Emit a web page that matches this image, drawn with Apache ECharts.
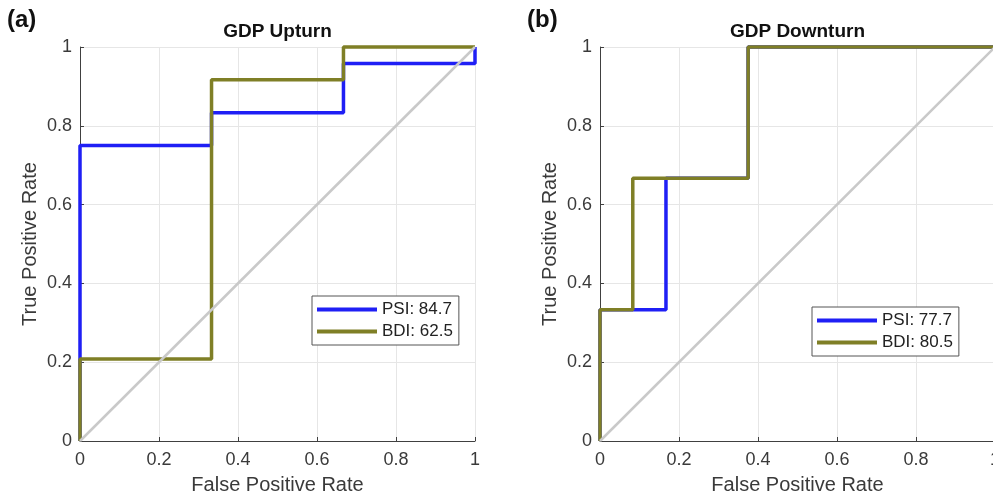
<!DOCTYPE html>
<html>
<head>
<meta charset="utf-8">
<script src="https://cdn.jsdelivr.net/npm/echarts@6/dist/echarts.min.js"></script>
<style>
html,body{margin:0;padding:0;background:#fff;}
#chart{width:993px;height:501px;}
</style>
</head>
<body>
<div id="chart"></div>
<script>
// ---- Data ----
const panelLabels = ['(a)', '(b)'];
const panelTitles = ['GDP Upturn', 'GDP Downturn'];
const xAxisName = 'False Positive Rate';
const yAxisName = 'True Positive Rate';

// Panel (a): GDP Upturn — ROC step curves [FPR, TPR]
const upturnPSIName = 'PSI: 84.7';
const upturnPSI = [[0,0],[0,0.75],[0.333,0.75],[0.333,0.833],[0.667,0.833],[0.667,0.958],[1,0.958],[1,1]];
const upturnBDIName = 'BDI: 62.5';
const upturnBDI = [[0,0],[0,0.208],[0.333,0.208],[0.333,0.917],[0.667,0.917],[0.667,1],[1,1]];

// Panel (b): GDP Downturn
const downturnPSIName = 'PSI: 77.7';
const downturnPSI = [[0,0],[0,0.333],[0.167,0.333],[0.167,0.667],[0.375,0.667],[0.375,1],[1,1]];
const downturnBDIName = 'BDI: 80.5';
const downturnBDI = [[0,0],[0,0.333],[0.083,0.333],[0.083,0.667],[0.375,0.667],[0.375,1],[1,1]];

// Chance diagonal
const diagonal = [[0,0],[1,1]];

// ---- Styles ----
const BLUE = '#1f1ff5';
const OLIVE = '#7f7f26';
const GRAY = '#c9c9c9';
const TXT = '#3a3a3a';
const FONT = 'Liberation Sans, Arial, Helvetica, sans-serif';

const chart = echarts.init(document.getElementById('chart'), null, {renderer: 'canvas'});

function xAxis(i) {
  return {
    type: 'value', gridIndex: i, min: 0, max: 1, interval: 0.2,
    name: xAxisName, nameLocation: 'middle', nameGap: 34,
    nameTextStyle: {fontSize: 20, color: TXT, fontFamily: FONT},
    axisLine: {show: true, onZero: false, lineStyle: {color: '#404040', width: 1}},
    axisTick: {show: true, inside: true, length: 4, lineStyle: {color: '#404040'}},
    axisLabel: {fontSize: 18, color: TXT, fontFamily: FONT, margin: 10, showMaxLabel: true, showMinLabel: true},
    splitLine: {show: true, lineStyle: {color: '#e6e6e6', width: 1}}
  };
}
function yAxis(i) {
  return {
    type: 'value', gridIndex: i, min: 0, max: 1, interval: 0.2,
    name: yAxisName, nameLocation: 'middle', nameGap: 40,
    nameTextStyle: {fontSize: 20, color: TXT, fontFamily: FONT},
    axisLine: {show: true, onZero: false, lineStyle: {color: '#404040', width: 1}},
    axisTick: {show: true, inside: true, length: 4, lineStyle: {color: '#404040'}},
    axisLabel: {fontSize: 18, color: TXT, fontFamily: FONT, margin: 8, showMaxLabel: true, showMinLabel: true},
    splitLine: {show: true, lineStyle: {color: '#e6e6e6', width: 1}}
  };
}
function lineSeries(name, data, color, gi, z, w) {
  return {
    name: name, type: 'line', xAxisIndex: gi, yAxisIndex: gi, data: data,
    showSymbol: false, symbol: 'none', clip: false, animation: false, z: z,
    lineStyle: {color: color, width: w}, itemStyle: {color: color}
  };
}
function legend(names, left, top) {
  return {
    data: names, orient: 'vertical', left: left, top: top,
    itemWidth: 60, itemHeight: 4, itemGap: 5, icon: 'rect',
    padding: [5, 6, 5, 5],
    borderColor: '#555', borderWidth: 1, backgroundColor: '#fff',
    textStyle: {fontSize: 17, color: '#222', fontFamily: FONT},
    selectedMode: false
  };
}

const option = {
  backgroundColor: '#fff',
  animation: false,
  title: [
    {text: panelLabels[0], left: 7, top: 8, padding: 0, textStyle: {fontSize: 24, fontWeight: 'bold', color: '#111', fontFamily: FONT}},
    {text: panelLabels[1], left: 527, top: 8, padding: 0, textStyle: {fontSize: 24, fontWeight: 'bold', color: '#111', fontFamily: FONT}},
    {text: panelTitles[0], left: 277.5, textAlign: 'center', top: 22, padding: 0, textStyle: {fontSize: 19, fontWeight: 'bold', color: '#111', fontFamily: FONT}},
    {text: panelTitles[1], left: 797.5, textAlign: 'center', top: 22, padding: 0, textStyle: {fontSize: 19, fontWeight: 'bold', color: '#111', fontFamily: FONT}}
  ],
  grid: [
    {left: 80, top: 47, width: 395, height: 394, containLabel: false, outerBoundsMode: 'none'},
    {left: 600, top: 47, width: 395, height: 394, containLabel: false, outerBoundsMode: 'none'}
  ],
  xAxis: [xAxis(0), xAxis(1)],
  yAxis: [yAxis(0), yAxis(1)],
  legend: [
    legend([upturnPSIName, upturnBDIName], 312, 296),
    legend([downturnPSIName, downturnBDIName], 812, 307)
  ],
  series: [
    lineSeries(upturnPSIName, upturnPSI, BLUE, 0, 2, 3.5),
    lineSeries(upturnBDIName, upturnBDI, OLIVE, 0, 3, 3.5),
    lineSeries('diag-a', diagonal, GRAY, 0, 4, 2.5),
    lineSeries(downturnPSIName, downturnPSI, BLUE, 1, 2, 3.5),
    lineSeries(downturnBDIName, downturnBDI, OLIVE, 1, 3, 3.5),
    lineSeries('diag-b', diagonal, GRAY, 1, 4, 2.5)
  ]
};
chart.setOption(option);
</script>
</body>
</html>
